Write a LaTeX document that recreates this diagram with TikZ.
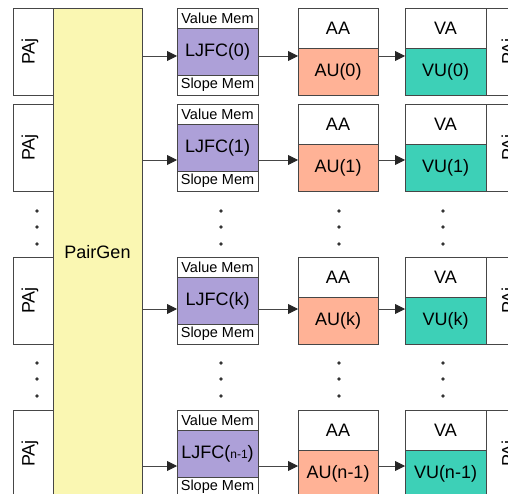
\documentclass[tikz,border=0pt]{standalone}
\usepackage{fontspec}
\setmainfont{Liberation Sans}
\usetikzlibrary{arrows.meta,positioning}

\definecolor{linegray}{RGB}{70,70,70}
\definecolor{genyellow}{RGB}{250,247,178}
\definecolor{ljfcpurple}{RGB}{173,160,216}
\definecolor{ausalmon}{RGB}{255,178,150}
\definecolor{vuteal}{RGB}{61,208,183}

\begin{document}
\begin{tikzpicture}[
  x=1pt, y=-1pt,
  cell/.style={draw=linegray, line width=0.9pt, inner sep=0pt, outer sep=0pt, anchor=north west, fill=white, font=\fontsize{18}{20}\selectfont},
  pabox/.style={cell, minimum width=40pt, minimum height=87pt},
  patext/.style={rotate=90, font=\fontsize{18}{20}\selectfont},
  membox/.style={cell, minimum width=81pt, minimum height=20pt, font=\fontsize{14.5}{15}\selectfont},
  ljfcbox/.style={cell, minimum width=81pt, minimum height=47pt, fill=ljfcpurple},
  topbox/.style={cell, minimum width=80pt, minimum height=40pt},
  aubox/.style={cell, minimum width=80pt, minimum height=47pt, fill=ausalmon},
  vubox/.style={cell, minimum width=81pt, minimum height=47pt, fill=vuteal},
  genbox/.style={cell, minimum width=89pt, minimum height=488pt, fill=genyellow},
  arrow/.style={-{Triangle[length=10pt,width=10pt,fill=black!85,color=black!85]}, draw=linegray, line width=0.9pt}
]
\useasboundingbox (0,0) rectangle (508,494);
\clip (0,0) rectangle (508,494);

\node[genbox] (pair) at (53,8) {PairGen};

% one row per LJFC
\foreach \i/\ty/\ay/\lab/\su in {0/8/56/0/0, 1/104/160/1/1, 2/257/309/k/k,
    3/410/466/{{\fontsize{12}{12}\selectfont n-1}}/n-1}{
  \node[pabox] (pa\i) at (13,\ty) {};
  \node[patext] (patxt\i) at (30,\ty+43.5) {PAj};
  \node[membox] (vmem\i) at (177,\ty) {Value Mem};
  \node[ljfcbox] (ljfc\i) at (177,\ty+20) {LJFC(\lab)};
  \node[membox] (smem\i) at (177,\ty+67) {Slope Mem};
  \node[topbox] (aa\i) at (298,\ty) {AA};
  \node[aubox] (au\i) at (298,\ty+40) {AU(\su)};
  \node[topbox, minimum width=81pt] (va\i) at (405,\ty) {VA};
  \node[vubox] (vu\i) at (405,\ty+40) {VU(\su)};
  \node[pabox] (pb\i) at (486,\ty) {};
  \node[patext] (pbtxt\i) at (510,\ty+43.5) {PAj};
  \coordinate (a\i) at (0,\ay);
  \draw[arrow] (pair.east |- a\i) -- (ljfc\i.west |- a\i);
  \draw[arrow] (ljfc\i.east |- a\i) -- (au\i.west |- a\i);
  \draw[arrow] (au\i.east |- a\i) -- (vu\i.west |- a\i);
}

% vertical dots
\foreach \x in {37,221,339,443}
  \foreach \y in {211,227,244,363,379,396}
    \fill[black!80] (\x,\y) circle (1.8pt);
\end{tikzpicture}
\end{document}
